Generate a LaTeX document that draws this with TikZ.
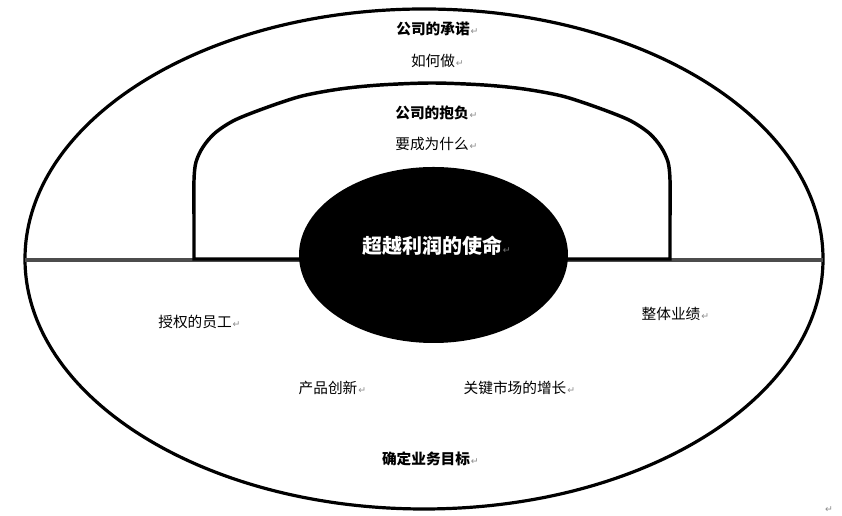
\documentclass[tikz,border=0pt]{standalone}
\usepackage{fontspec}
\setmainfont{Noto Sans CJK SC}
\newfontfamily\symf{DejaVu Sans}
\usetikzlibrary{shapes.geometric}
\tikzset{
  lbl/.style={font=\fontsize{11}{13}\selectfont, inner sep=0pt},
  blbl/.style={font=\fontsize{11}{13}\selectfont\bfseries, inner sep=0pt},
  pmark/.style={font=\symf\fontsize{7}{8}\selectfont, text=black!45, inner sep=0.3pt, anchor=base west},
  ring/.style={line width=2.4pt, black},
  archline/.style={line width=2.6pt, black, line join=miter},
  midline/.style={line width=2.4pt, black!70},
}
\begin{document}
\begin{tikzpicture}[x=0.75pt,y=0.75pt]
\useasboundingbox[fill=white] (0,0) rectangle (842,516);
% outer ellipse
\draw[ring] (424,257) ellipse [x radius=299.25pt, y radius=187.5pt];
% middle divider
\coordinate (L) at (25,256);
\coordinate (R) at (823,256);
\draw[midline] (L) -- (R);
% arch
\draw[archline] (300,257) -- (194,257) -- (194,300)
  -- plot[smooth] coordinates {(194,300) (194,336) (196,354) (203,369) (215,383) (235,396) (268,409) (302,420) (340,427) (380,431) (432,433) (484,431) (524,427) (562,420) (596,409) (629,396) (649,383) (661,369) (668,354) (670,336) (670,300)}
  -- (670,257) -- (567,257);
% core
\node[ellipse, fill=black, draw=none, minimum width=201.75pt, minimum height=132pt, inner sep=0pt] (core) at (433.5,261) {};
\node[font=\fontsize{15}{17}\selectfont\bfseries, text=white, inner sep=0pt] (mission) at (432,270) {超越利润的使命};
\node[pmark, text=black!55] at (mission.base east) {↵};
% labels
\node[blbl] (t1) at (433,487) {公司的承诺};
\node[pmark] at (t1.base east) {↵};
\node[lbl] (t2) at (433,455) {如何做};
\node[pmark] at (t2.base east) {↵};
\node[blbl] (t3) at (432,403) {公司的抱负};
\node[pmark] at (t3.base east) {↵};
\node[lbl] (t4) at (432,372) {要成为什么};
\node[pmark] at (t4.base east) {↵};
\node[lbl] (t5) at (195,194) {授权的员工};
\node[pmark] at (t5.base east) {↵};
\node[lbl] (t6) at (671,202) {整体业绩};
\node[pmark] at (t6.base east) {↵};
\node[lbl] (t7) at (328,128) {产品创新};
\node[pmark] at (t7.base east) {↵};
\node[lbl] (t8) at (515,128) {关键市场的增长};
\node[pmark] at (t8.base east) {↵};
\node[blbl] (t9) at (426,57) {确定业务目标};
\node[pmark] at (t9.base east) {↵};
\node[pmark, anchor=center] (end) at (829,6) {↵};
\end{tikzpicture}
\end{document}
